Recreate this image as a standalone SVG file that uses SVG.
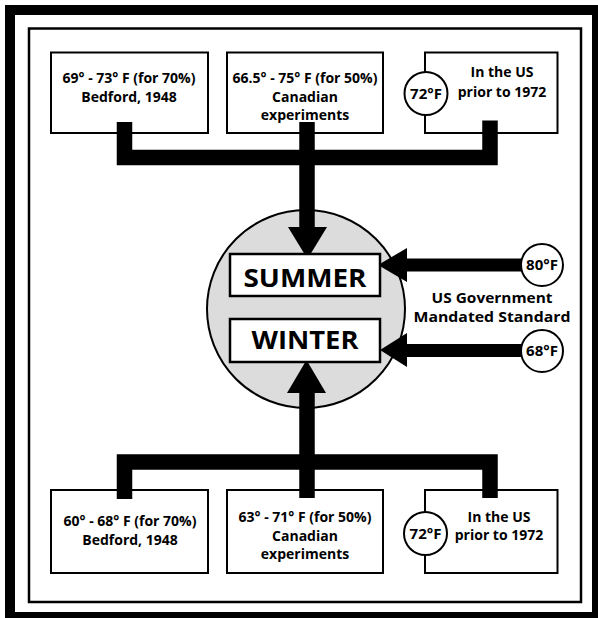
<svg xmlns="http://www.w3.org/2000/svg" width="598" height="618" viewBox="0 0 598 618">
<style>
.box{fill:#fff;stroke:#000;stroke-width:2}
.t{font-family:"Open Sans","DejaVu Sans",sans-serif;font-weight:700;font-size:14px;text-anchor:middle;fill:#000}
.c{font-family:"Open Sans","DejaVu Sans",sans-serif;font-weight:700;font-size:15px;text-anchor:middle;fill:#000}
.big{font-family:"Open Sans","DejaVu Sans",sans-serif;font-weight:700;font-size:25px;text-anchor:middle;fill:#000}
.gov{font-family:"Open Sans","DejaVu Sans",sans-serif;font-weight:700;font-size:14.5px;text-anchor:middle;fill:#000}
.ring{fill:#fff;stroke:#000;stroke-width:2}
.line{fill:none;stroke:#000;stroke-width:15.5;stroke-linejoin:miter}
.hline{fill:none;stroke:#000;stroke-width:13}
.head{fill:#000}
.season{fill:#fff;stroke:#000;stroke-width:2.5}
</style>
<rect width="598" height="618" fill="#fff"/>
<g id="frame">
<rect x="10" y="10" width="587" height="607" fill="none" stroke="#000" stroke-width="10"/>
<rect x="29" y="28.5" width="552" height="573.5" fill="none" stroke="#000" stroke-width="2.5"/>
</g>
<g id="center-circle">
<circle cx="306" cy="309" r="99" fill="#dcdcdc" stroke="#000" stroke-width="2"/>
</g>
<g id="top-bedford">
<rect class="box" x="51" y="52.5" width="157" height="80.5"/>
<text class="t" x="129" y="83">69° - 73° F (for 70%)</text>
<text class="t" x="129" y="101.5">Bedford, 1948</text>
</g>
<g id="top-canadian">
<rect class="box" x="227" y="52.5" width="156" height="80.5"/>
<text class="t" x="305" y="83">66.5° - 75° F (for 50%)</text>
<text class="t" x="305" y="101.5">Canadian</text>
<text class="t" x="305" y="120">experiments</text>
</g>
<g id="top-us">
<rect class="box" x="425" y="52.5" width="132.5" height="80.5"/>
<text class="t" x="502" y="77">In the US</text>
<text class="t" x="502" y="96.5">prior to 1972</text>
</g>
<g id="bottom-bedford">
<rect class="box" x="51" y="490" width="157" height="83"/>
<text class="t" x="130" y="526">60° - 68° F (for 70%)</text>
<text class="t" x="130" y="545">Bedford, 1948</text>
</g>
<g id="bottom-canadian">
<rect class="box" x="227" y="490" width="156" height="83"/>
<text class="t" x="305" y="522">63° - 71° F (for 50%)</text>
<text class="t" x="305" y="540.5">Canadian</text>
<text class="t" x="305" y="559">experiments</text>
</g>
<g id="bottom-us">
<rect class="box" x="425" y="490" width="132.5" height="83"/>
<text class="t" x="499" y="521.5">In the US</text>
<text class="t" x="499" y="540">prior to 1972</text>
</g>
<g id="connectors">
<polyline class="line" points="124.5,122 124.5,157.5 490,157.5 490,120.5"/>
<line class="line" x1="307" y1="122" x2="307" y2="228"/>
<polygon class="head" points="288,227 327,227 307.5,259"/>
<polyline class="line" points="124.5,499 124.5,462 490,462 490,498"/>
<line class="line" x1="307" y1="498" x2="307" y2="392"/>
<polygon class="head" points="287,393 326,393 306.5,360"/>
<line class="hline" x1="525" y1="265" x2="405" y2="265"/>
<polygon class="head" points="407,248 407,282 378,265"/>
<line class="hline" x1="525" y1="350.5" x2="405" y2="350.5"/>
<polygon class="head" points="407,333 407,367 380,350"/>
</g>
<g id="summer">
<rect class="season" x="230" y="254" width="150" height="42"/>
<text class="big" x="305" y="287" textLength="123" lengthAdjust="spacingAndGlyphs">SUMMER</text>
</g>
<g id="winter">
<rect class="season" x="230" y="319" width="150" height="43"/>
<text class="big" x="305" y="348.5" textLength="107" lengthAdjust="spacingAndGlyphs">WINTER</text>
</g>
<g id="std-80">
<circle class="ring" cx="542" cy="265" r="21"/>
<text class="c" x="542" y="270">80°F</text>
</g>
<g id="std-68">
<circle class="ring" cx="542" cy="351" r="21"/>
<text class="c" x="542" y="356">68°F</text>
</g>
<g id="std-label">
<text class="gov" x="492" y="302.5" textLength="121" lengthAdjust="spacingAndGlyphs">US Government</text>
<text class="gov" x="492" y="321.5" textLength="157" lengthAdjust="spacingAndGlyphs">Mandated Standard</text>
</g>
<g id="ring-top">
<circle class="ring" cx="426" cy="93.5" r="21.5"/>
<text class="c" x="426" y="98.5">72°F</text>
</g>
<g id="ring-bottom">
<circle class="ring" cx="425.5" cy="533.5" r="21.5"/>
<text class="c" x="425.5" y="538.5">72°F</text>
</g>
</svg>
